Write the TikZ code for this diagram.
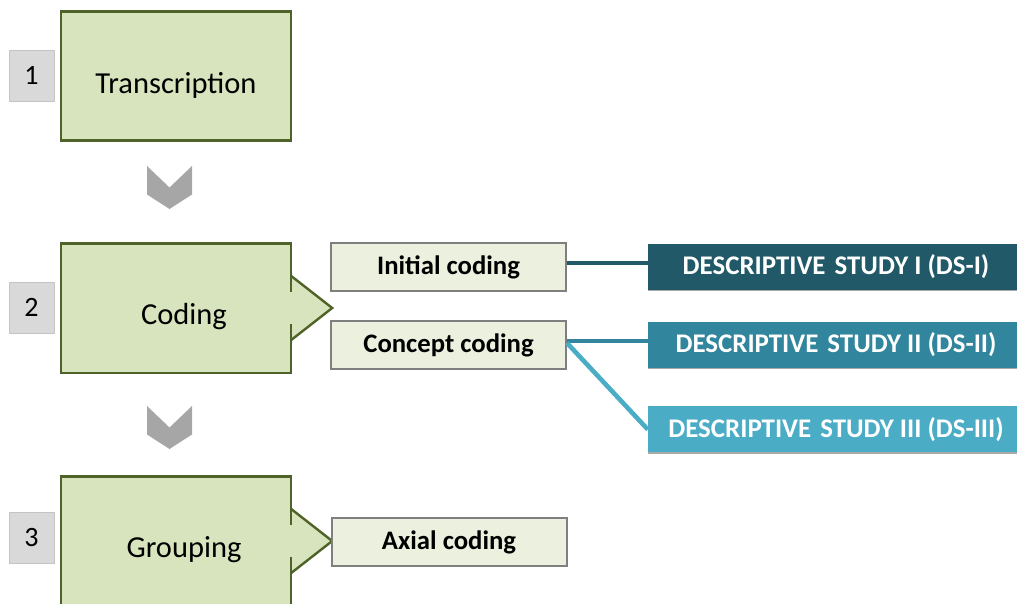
\documentclass[tikz,border=0pt]{standalone}
\usepackage{fontspec}
\setmainfont{Carlito}
\usetikzlibrary{calc}

\definecolor{stagefill}{HTML}{D7E4BD}
\definecolor{stageline}{HTML}{4F6228}
\definecolor{codefill}{HTML}{EBF1DE}
\definecolor{codeline}{HTML}{7F7F7F}
\definecolor{numfill}{HTML}{D9D9D9}
\definecolor{numline}{HTML}{C4C4C4}
\definecolor{chevgray}{HTML}{A6A6A6}
\definecolor{dsone}{HTML}{215968}
\definecolor{dstwo}{HTML}{31859C}
\definecolor{dsthree}{HTML}{4BACC6}
\definecolor{dsshade}{HTML}{A9A9A9}

% outline of a stage box whose right side opens into a pointer
\newcommand{\stagecallout}[1]{%
  \fill[stagefill] ([yshift=32pt]#1.east) -- ([xshift=41pt]#1.east) -- ([yshift=-32pt]#1.east) -- cycle;
  \draw[stageborder] ([yshift=16pt]#1.east) -- (#1.north east) -- (#1.north west)
        -- (#1.south west) -- (#1.south east) -- ([yshift=-16pt]#1.east);
  \draw[stageborder] ([yshift=32pt]#1.east) -- ([xshift=41pt]#1.east) -- ([yshift=-32pt]#1.east);
}

\begin{document}
\begin{tikzpicture}[x=1pt,y=-1pt,
  stagebox/.style={rectangle, fill=stagefill, minimum width=230pt, minimum height=129pt, inner sep=0pt},
  stageborder/.style={draw=stageline, line width=2.4pt, line join=miter},
  stagetext/.style={font=\fontsize{30.5}{36}\selectfont, yshift=-9pt},
  numbox/.style={rectangle, fill=numfill, draw=numline, line width=0.8pt, minimum width=45pt,
                 minimum height=51pt, inner sep=0pt, font=\fontsize{28}{32}\selectfont},
  codebox/.style={rectangle, fill=codefill, draw=codeline, line width=2pt, minimum width=235pt,
                  minimum height=48pt, inner sep=0pt, font=\bfseries\fontsize{26.7}{30}\selectfont},
  dsbox/.style={rectangle, minimum width=376pt, minimum height=47pt, inner sep=0pt, text=white,
                font=\bfseries\fontsize{26.9}{30}\selectfont},
  dsbase/.style={draw=dsshade, line width=1.5pt},
  chevron/.style={fill=chevgray},
  link/.style={line width=4.6pt}
]
\useasboundingbox (0,0) rectangle (1017,604);
\clip (0,0) rectangle (1017,604);

% step numbers
\node[numbox] (n1) at (31.5,75.5) {1};
\node[numbox] (n2) at (31.5,307.5) {2};
\node[numbox] (n3) at (31.5,538) {3};

% stage boxes
\node[stagebox, draw=stageline, line width=2.4pt,
      label={[stagetext, name=t1]center:Transcription}] (s1) at (176,76) {};
\node[stagebox, label={[stagetext, xshift=8pt, name=t2]center:Coding}] (s2) at (176,308) {};
\node[stagebox, label={[stagetext, xshift=8pt, name=t3]center:Grouping}] (s3) at (176,541) {};
\stagecallout{s2}
\stagecallout{s3}

% chevrons between the stages
\coordinate (chevA) at (169.5,166);
\coordinate (chevB) at (169.5,406);
\foreach \c in {chevA,chevB}
  \fill[chevron] (\c) ++(-22.5,0) -- ++(22.5,21.5) -- ++(22.5,-21.5) -- ++(0,28.5)
        -- ++(-22.5,14.5) -- ++(-22.5,-14.5) -- cycle;

% coding steps
\node[codebox] (ic) at (448.5,267) {Initial coding};
\node[codebox] (cc) at (448.5,345) {Concept coding};
\node[codebox] (ac) at (449,542) {Axial coding};

% studies
\node[dsbox, fill=dsone]   (ds1) at (836,267)   {DESCRIPTIVE\hspace{3pt} STUDY I (DS-I)};
\node[dsbox, fill=dstwo]   (ds2) at (836,345)   {DESCRIPTIVE\hspace{3pt} STUDY II (DS-II)};
\node[dsbox, fill=dsthree] (ds3) at (836,429.5) {DESCRIPTIVE\hspace{3pt} STUDY III (DS-III)};
\foreach \d in {ds1,ds2,ds3}
  \draw[dsbase] (\d.south west) -- (\d.south east);

% links from coding steps to studies
\draw[link, draw=dsone]   ([yshift=4pt]ic.east) -- ([yshift=4pt]ds1.west);
\draw[link, draw=dstwo]   ([yshift=4pt]cc.east) -- ([yshift=4pt]ds2.west);
\draw[link, draw=dsthree] ([yshift=2pt]cc.east) -- (ds3.west);
\end{tikzpicture}
\end{document}
